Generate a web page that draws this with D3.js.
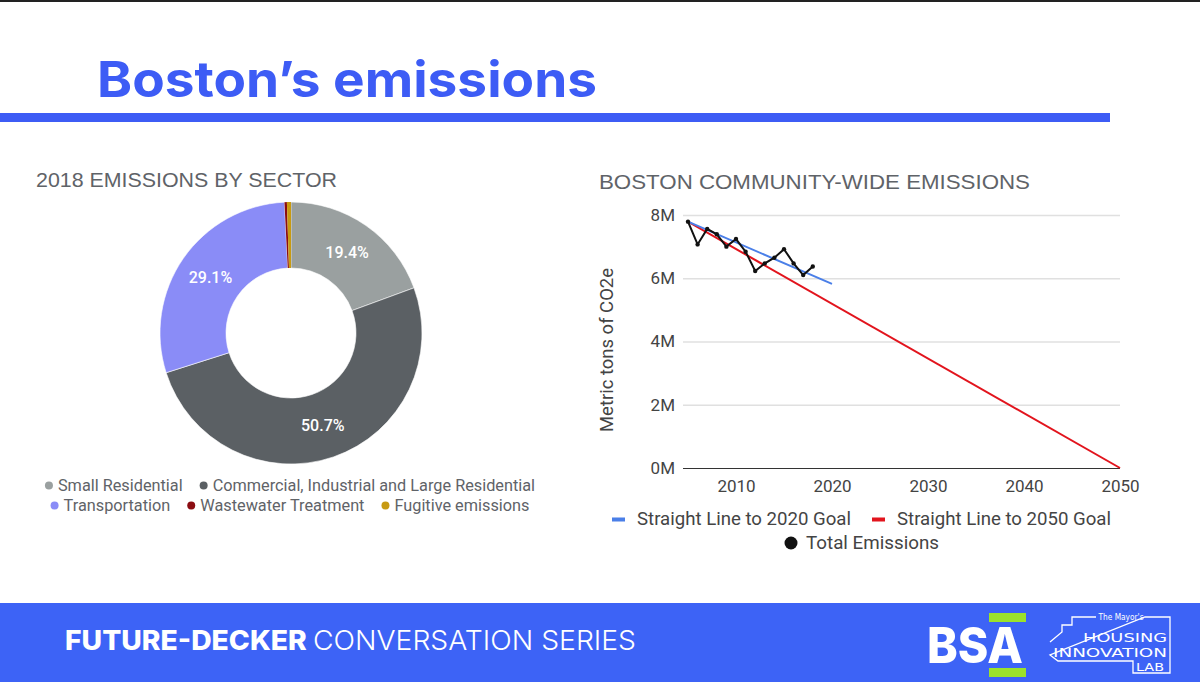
<!DOCTYPE html>
<html lang="en">
<head>
  <meta charset="utf-8" />
  <script src="https://cdn.jsdelivr.net/npm/d3@7"></script>
  <style>
    body { margin: 0; background: #fff; }
    svg { display: block; }
  </style>
</head>
<body>
  <div id="chart"></div>

  <script>
    // ---- data ----
    const sectors = ["Small Residential", "Commercial, Industrial and Large Residential", "Transportation", "Wastewater Treatment", "Fugitive emissions"];
    const sectorShares = [19.4, 50.7, 29.1, 0.3, 0.5];
    const sectorColors = ["#9aa0a0", "#5b6064", "#8a8cf7", "#8b0d12", "#c79a12"];

    const years = [2005, 2006, 2007, 2008, 2009, 2010, 2011, 2012, 2013, 2014, 2015, 2016, 2017, 2018];
    const totalEmissions = [7.79, 7.07, 7.56, 7.39, 7.0, 7.24, 6.84, 6.23, 6.47, 6.65, 6.92, 6.47, 6.10, 6.37].map(v => v * 1e6);
    const goal2020Years = [2005, 2020];
    const goal2020Values = [7.79e6, 5.82e6];
    const goal2050Years = [2005, 2050];
    const goal2050Values = [7.79e6, 0];

    const yTicks = [0, 2e6, 4e6, 6e6, 8e6];
    const xTicks = [2010, 2020, 2030, 2040, 2050];

    const W = 1200, H = 682;
    const blue = "#3d5cf5";
    const grayText = "#5f6368";

    const svg = d3.select("#chart").append("svg")
      .attr("width", W).attr("height", H);

    svg.append("rect").attr("width", W).attr("height", H).attr("fill", "#fff");
    // thin dark frame at top
    svg.append("rect").attr("x", 0).attr("y", 0).attr("width", W).attr("height", 2).attr("fill", "#222");

    // ---- slide header ----
    svg.append("text")
      .attr("x", 97).attr("y", 97)
      .attr("font-family", "Inter, 'Open Sans', sans-serif")
      .attr("font-weight", 700)
      .attr("font-size", 50)
      .attr("fill", blue)
      .attr("textLength", 500)
      .attr("lengthAdjust", "spacingAndGlyphs")
      .text("Boston’s emissions");

    svg.append("rect").attr("x", 0).attr("y", 113).attr("width", 1110).attr("height", 9).attr("fill", blue);

    ///////////////////////
    // donut chart
    svg.append("text")
      .attr("x", 36).attr("y", 187)
      .attr("font-family", "'Liberation Sans', Arial, sans-serif")
      .attr("font-size", 20.5)
      .attr("fill", grayText)
      .attr("textLength", 301)
      .attr("lengthAdjust", "spacingAndGlyphs")
      .text("2018 EMISSIONS BY SECTOR");

    const cx = 291, cy = 333, rOuter = 131, rInner = 65;
    const pie = d3.pie().sort(null).value(d => d.value);
    const arcs = pie(sectors.map((s, i) => ({ name: s, value: sectorShares[i], color: sectorColors[i] })));
    const arc = d3.arc().innerRadius(rInner).outerRadius(rOuter);
    const labelArc = d3.arc().innerRadius(98).outerRadius(98);

    const donut = svg.append("g").attr("transform", `translate(${cx},${cy})`);
    donut.selectAll("path")
      .data(arcs)
      .enter()
      .append("path")
      .attr("d", arc)
      .attr("fill", d => d.data.color)
      .attr("stroke", "#fff")
      .attr("stroke-width", d => d.data.value > 5 ? 0.6 : 0);

    donut.selectAll("text")
      .data(arcs.filter(d => d.data.value > 5))
      .enter()
      .append("text")
      .attr("transform", d => `translate(${labelArc.centroid(d)})`)
      .attr("text-anchor", "middle")
      .attr("dy", "0.36em")
      .attr("font-family", "Roboto, sans-serif")
      .attr("font-weight", 500)
      .attr("font-size", 16)
      .attr("fill", "#fff")
      .text(d => d.data.value.toFixed(1) + "%");

    // donut legend (two centred rows)
    const pieLegendRows = [[0, 1], [2, 3, 4]];
    const pieLegendY = [491, 511];
    const pieLegendCenter = 290;
    pieLegendRows.forEach((row, ri) => {
      const g = svg.append("g");
      let x = 0;
      row.forEach(i => {
        g.append("circle").attr("cx", x + 4).attr("cy", pieLegendY[ri] - 5.5).attr("r", 4).attr("fill", sectorColors[i]);
        const t = g.append("text")
          .attr("x", x + 13).attr("y", pieLegendY[ri])
          .attr("font-family", "Roboto, sans-serif")
          .attr("font-size", 16.3)
          .attr("fill", grayText)
          .text(sectors[i]);
        x += 13 + t.node().getComputedTextLength() + 17;
      });
      const w = x - 17;
      g.attr("transform", `translate(${pieLegendCenter - w / 2},0)`);
    });

    ///////////////////////
    // line chart
    svg.append("text")
      .attr("x", 599).attr("y", 189)
      .attr("font-family", "'Liberation Sans', Arial, sans-serif")
      .attr("font-size", 21)
      .attr("fill", grayText)
      .attr("textLength", 431)
      .attr("lengthAdjust", "spacingAndGlyphs")
      .text("BOSTON COMMUNITY-WIDE EMISSIONS");

    const x = d3.scaleLinear().domain([2005, 2050]).range([688, 1120]);
    const y = d3.scaleLinear().domain([0, 8e6]).range([468, 215]);

    svg.append("g")
      .attr("transform", "translate(683,0)")
      .call(d3.axisLeft(y).tickValues(yTicks).tickFormat(d => (d / 1e6) + "M").tickSize(0).tickPadding(8))
      .call(g => g.select(".domain").remove())
      .call(g => g.selectAll("text")
        .attr("font-family", "Roboto, sans-serif")
        .attr("font-size", 17)
        .attr("fill", "#444"))
      .call(g => g.selectAll(".tick").append("line")
        .attr("x1", 0).attr("x2", 1120 - 683)
        .attr("stroke", d => d === 0 ? "#333" : "#e0e0e0")
        .attr("stroke-width", d => d === 0 ? 1.2 : 1.5));

    svg.append("g")
      .attr("transform", "translate(0,468)")
      .call(d3.axisBottom(x).tickValues(xTicks).tickFormat(d3.format("d")).tickSize(0).tickPadding(12))
      .call(g => g.select(".domain").remove())
      .call(g => g.selectAll("text")
        .attr("font-family", "Roboto, sans-serif")
        .attr("font-size", 17)
        .attr("fill", "#444"));

    svg.append("text")
      .attr("transform", "translate(613,350) rotate(-90)")
      .attr("text-anchor", "middle")
      .attr("font-family", "Roboto, sans-serif")
      .attr("font-size", 18)
      .attr("fill", "#444")
      .attr("textLength", 164)
      .attr("lengthAdjust", "spacingAndGlyphs")
      .text("Metric tons of CO2e");

    const line = d3.line().x(d => x(d[0])).y(d => y(d[1]));

    svg.append("path")
      .datum(goal2050Years.map((yr, i) => [yr, goal2050Values[i]]))
      .attr("d", line)
      .attr("fill", "none")
      .attr("stroke", "#e2141d")
      .attr("stroke-width", 2);

    svg.append("path")
      .datum(goal2020Years.map((yr, i) => [yr, goal2020Values[i]]))
      .attr("d", line)
      .attr("fill", "none")
      .attr("stroke", "#4a7fe8")
      .attr("stroke-width", 2);

    const totals = years.map((yr, i) => [yr, totalEmissions[i]]);
    svg.append("path")
      .datum(totals)
      .attr("d", line)
      .attr("fill", "none")
      .attr("stroke", "#111")
      .attr("stroke-width", 2);
    svg.append("g")
      .selectAll("circle")
      .data(totals)
      .enter()
      .append("circle")
      .attr("cx", d => x(d[0]))
      .attr("cy", d => y(d[1]))
      .attr("r", 2.2)
      .attr("fill", "#111");

    // line legend
    const lineLegend = [
      { label: "Straight Line to 2020 Goal", color: "#4a7fe8", type: "dash", x: 612, y: 525, w: 214 },
      { label: "Straight Line to 2050 Goal", color: "#e2141d", type: "dash", x: 872, y: 525, w: 214 },
      { label: "Total Emissions", color: "#111", type: "dot", x: 784, y: 549, w: 133 }
    ];
    lineLegend.forEach(d => {
      if (d.type === "dash") {
        svg.append("rect").attr("x", d.x).attr("y", d.y - 7.5).attr("width", 13).attr("height", 4).attr("fill", d.color);
      } else {
        svg.append("circle").attr("cx", d.x + 7).attr("cy", d.y - 6).attr("r", 6.5).attr("fill", d.color);
      }
      svg.append("text")
        .attr("x", d.x + (d.type === "dash" ? 25 : 22)).attr("y", d.y)
        .attr("font-family", "Roboto, sans-serif")
        .attr("font-size", 18)
        .attr("fill", "#444")
        .attr("textLength", d.w)
        .attr("lengthAdjust", "spacingAndGlyphs")
        .text(d.label);
    });

    ///////////////////////
    // footer band
    svg.append("rect").attr("x", 0).attr("y", 603).attr("width", W).attr("height", H - 603).attr("fill", "#3d63f6");

    const foot = svg.append("text")
      .attr("x", 65).attr("y", 650)
      .attr("font-family", "Inter, 'Open Sans', sans-serif")
      .attr("font-size", 27)
      .attr("fill", "#fff")
      .attr("textLength", 571)
      .attr("lengthAdjust", "spacingAndGlyphs");
    foot.append("tspan").attr("font-weight", 800).text("FUTURE-DECKER ");
    foot.append("tspan").attr("font-weight", 300).text("CONVERSATION SERIES");

    // BSA mark
    svg.append("rect").attr("x", 989).attr("y", 613).attr("width", 37).attr("height", 9).attr("fill", "#9be22b");
    svg.append("rect").attr("x", 989).attr("y", 668).attr("width", 37).attr("height", 9).attr("fill", "#9be22b");
    svg.append("text")
      .attr("x", 927).attr("y", 663)
      .attr("font-family", "Inter, sans-serif")
      .attr("font-weight", 800)
      .attr("font-size", 50)
      .attr("fill", "#fff")
      .attr("textLength", 96)
      .attr("lengthAdjust", "spacingAndGlyphs")
      .text("BSA");

    // Housing Innovation Lab mark
    svg.append("path")
      .attr("d", "M1050,642 L1062,632 L1062,625 L1072,625 L1072,617 L1096,617 M1145,617 L1170,617 L1170,673 L1133,673 L1133,661 L1058,661 L1050,655 Z")
      .attr("fill", "none")
      .attr("stroke", "#fff")
      .attr("stroke-width", 1.3);
    const hil = [
      { t: "The Mayor's", x: 1121, y: 620, s: 8, w: 45 },
      { t: "HOUSING", x: 1167, y: 642, s: 13, w: 84 },
      { t: "INNOVATION", x: 1167, y: 657, s: 13, w: 114 },
      { t: "LAB", x: 1164, y: 671, s: 11, w: 28 }
    ];
    svg.append("g").selectAll("text")
      .data(hil)
      .enter()
      .append("text")
      .attr("x", d => d.x).attr("y", d => d.y)
      .attr("text-anchor", d => d.s === 8 ? "middle" : "end")
      .attr("font-family", "'DejaVu Sans Condensed', 'Roboto Condensed', sans-serif")
      .attr("font-size", d => d.s)
      .attr("fill", "#fff")
      .attr("textLength", d => d.w)
      .attr("lengthAdjust", "spacingAndGlyphs")
      .text(d => d.t);
  </script>
</body>
</html>
